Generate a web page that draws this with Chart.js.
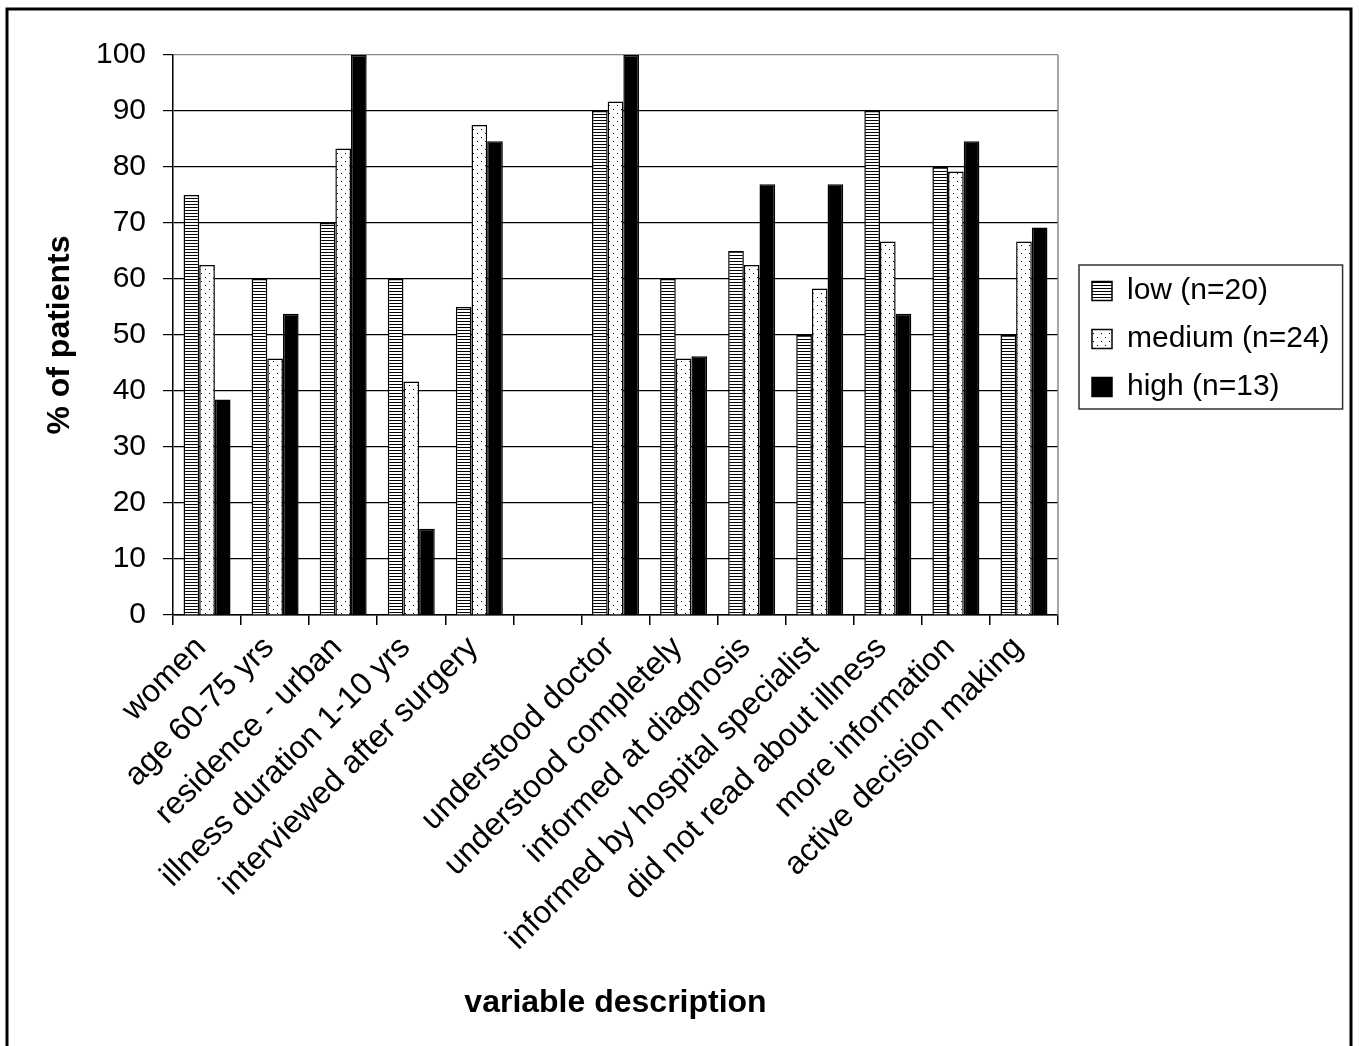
<!DOCTYPE html>
<html>
<head>
<meta charset="utf-8">
<script src="https://cdn.jsdelivr.net/npm/chart.js@4.4.0/dist/chart.umd.min.js"></script>
<style>
  html, body { margin: 0; padding: 0; background: #fff; }
  #wrap { width: 1359px; height: 1046px; position: relative; }
</style>
</head>
<body>
<div id="wrap"><canvas id="chart" width="1359" height="1046"></canvas></div>
<script>
const categories = [
  'women', 'age 60-75 yrs', 'residence - urban', 'illness duration 1-10 yrs',
  'interviewed after surgery', '', 'understood doctor', 'understood completely',
  'informed at diagnosis', 'informed by hospital specialist', 'did not read about illness',
  'more information', 'active decision making'
];
const lowValues    = [75, 60, 70, 60, 55, null, 90, 60, 65, 50, 90, 80, 50];
const mediumValues = [62.5, 45.8, 83.3, 41.7, 87.5, null, 91.7, 45.8, 62.5, 58.3, 66.7, 79.2, 66.7];
const highValues   = [38.5, 53.8, 100, 15.4, 84.6, null, 100, 46.2, 76.9, 76.9, 53.8, 84.6, 69.2];
const seriesLabels = ['low (n=20)', 'medium (n=24)', 'high (n=13)'];
const yTicks = [0, 10, 20, 30, 40, 50, 60, 70, 80, 90, 100];

const FONT = '"Liberation Sans", Arial, sans-serif';

// fill patterns like the old excel print styles
function stripePattern() {
  const c = document.createElement('canvas');
  c.width = 4; c.height = 3;
  const g = c.getContext('2d');
  g.fillStyle = '#fff'; g.fillRect(0, 0, 4, 3);
  g.fillStyle = '#000'; g.fillRect(0, 0, 4, 1);
  return g.createPattern(c, 'repeat');
}

function dotPattern() {
  const c = document.createElement('canvas');
  c.width = 8; c.height = 8;
  const g = c.getContext('2d');
  g.fillStyle = '#fff'; g.fillRect(0, 0, 8, 8);
  g.fillStyle = '#000';
  g.fillRect(1, 1, 1, 1);
  g.fillRect(5, 5, 1, 1);
  return g.createPattern(c, 'repeat');
}

const framePlugin = {
  id: 'frame',
  beforeInit(chart) {
    const legend = chart.legend;
    const origFit = legend.fit;
    legend.fit = function () { origFit.call(this); this.width = 291; };
  },
  afterLayout(chart) {
    // nudge the legend block a little right / down, like the original
    chart.legend.left += 16; chart.legend.right += 16;
    chart.legend.top += 4; chart.legend.bottom += 4;
  },
  beforeDatasetsDraw(chart) {
    const { ctx, chartArea: a } = chart;
    ctx.save();
    ctx.strokeStyle = '#888';
    ctx.lineWidth = 1.5;
    ctx.beginPath();
    ctx.moveTo(a.right, a.top);
    ctx.lineTo(a.right, a.bottom);
    ctx.stroke();
    ctx.restore();
  },
  afterDraw(chart) {
    const { ctx } = chart;
    ctx.save();
    // outer frame
    ctx.strokeStyle = '#000';
    ctx.lineWidth = 3;
    ctx.beginPath();
    ctx.moveTo(7, 1060); ctx.lineTo(7, 9); ctx.lineTo(1351, 9); ctx.lineTo(1351, 1060);
    ctx.stroke();
    // legend box
    const hb = chart.legend.legendHitBoxes;
    if (hb && hb.length) {
      const left = Math.min(...hb.map(h => h.left)) - 13;
      const right = Math.max(...hb.map(h => h.left + h.width)) + 13;
      const top = hb[0].top - 11;
      const bottom = hb[hb.length - 1].top + hb[hb.length - 1].height + 7;
      ctx.lineWidth = 1.5;
      ctx.strokeStyle = '#333';
      ctx.strokeRect(left, top, right - left, bottom - top);
    }
    ctx.restore();
  }
};

const ctx = document.getElementById('chart').getContext('2d');
new Chart(ctx, {
  type: 'bar',
  data: {
    labels: categories,
    datasets: [
      { label: seriesLabels[0], data: lowValues, backgroundColor: stripePattern(), borderColor: '#000', borderWidth: 1.5 },
      { label: seriesLabels[1], data: mediumValues, backgroundColor: dotPattern(), borderColor: '#000', borderWidth: 1.5 },
      { label: seriesLabels[2], data: highValues, backgroundColor: '#000', borderColor: '#000', borderWidth: 1.5 }
    ]
  },
  options: {
    responsive: false,
    animation: false,
    devicePixelRatio: 1,
    layout: { padding: { top: 55, left: 37, right: 10, bottom: 20 } },
    datasets: { bar: { categoryPercentage: 0.69, barPercentage: 1.0 } },
    plugins: {
      tooltip: { enabled: false },
      legend: {
        position: 'right',
        fullSize: false,
        labels: {
          color: '#000',
          font: { family: FONT, size: 30 },
          boxWidth: 20,
          boxHeight: 19,
          padding: 18
        }
      }
    },
    scales: {
      x: {
        grid: { offset: true, drawOnChartArea: false, drawTicks: true, tickLength: 10, color: '#000', lineWidth: 1.5 },
        border: { color: '#000', width: 1.5 },
        ticks: {
          color: '#000', font: { family: FONT, size: 32 },
          minRotation: 45, maxRotation: 45, autoSkip: false, padding: 4, labelOffset: -6
        },
        title: { display: true, text: 'variable description', color: '#000', font: { family: FONT, size: 32, weight: 'bold' }, padding: { top: 4, bottom: 4 } },
        afterFit(scale) { scale.height = 1046 - 20 - 615; }
      },
      y: {
        min: 0, max: 100,
        afterBuildTicks(scale) { scale.ticks = yTicks.map(v => ({ value: v })); },
        grid: {
          color: c => (c.tick && c.tick.value === 100 ? '#888' : '#000'),
          lineWidth: 1.2, tickLength: 10, tickColor: '#000'
        },
        border: { color: '#000', width: 1.5 },
        ticks: { color: '#000', font: { family: FONT, size: 30 }, padding: 17 },
        title: { display: true, text: '% of patients', color: '#000', font: { family: FONT, size: 32, weight: 'bold' }, padding: { top: 4, bottom: 4 } },
        afterFit(scale) { scale.width = 173 - 37; }
      }
    }
  },
  plugins: [framePlugin]
});
</script>
</body>
</html>
